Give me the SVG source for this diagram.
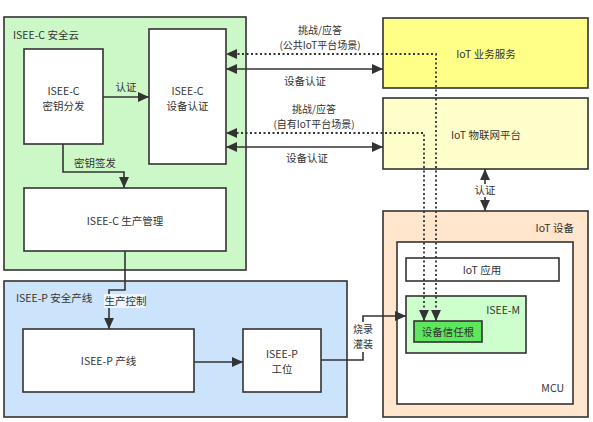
<svg xmlns="http://www.w3.org/2000/svg" width="593" height="422" viewBox="0 0 593 422">
<style>
.b{stroke:#333;stroke-width:1.6}
.t{font-family:"Noto Sans CJK SC","Liberation Sans",sans-serif;font-size:10.5px;fill:#333}
.s{font-size:10px}
.m{text-anchor:middle}
.e{text-anchor:end}
.l{fill:none;stroke:#333;stroke-width:1.6}
.d{fill:none;stroke:#333;stroke-width:1.8;stroke-dasharray:2 2.5}
</style>
<defs>
<marker id="ah" viewBox="0 0 10 10" refX="10" refY="5" markerWidth="11" markerHeight="11" markerUnits="userSpaceOnUse" orient="auto-start-reverse">
<path d="M0,0.5 L10,5 L0,9.5 Z" fill="#333"/>
</marker>
</defs>
<rect width="593" height="422" fill="#fff"/>
<g id="cloud">
<rect class="b" x="4" y="17" width="242" height="253" fill="#ccf7c6"/>
<text class="t" x="13" y="39">ISEE-C 安全云</text>
</g>
<g id="keydist">
<rect class="b" x="24" y="49" width="79" height="95" fill="#fff"/>
<text class="t m" x="63.5" y="95">ISEE-C</text>
<text class="t m" x="63.5" y="110">密钥分发</text>
</g>
<g id="devauth">
<rect class="b" x="149" y="29" width="77" height="135" fill="#fff"/>
<text class="t m" x="187.5" y="95">ISEE-C</text>
<text class="t m" x="187.5" y="110">设备认证</text>
</g>
<g id="prodmgmt">
<rect class="b" x="24" y="188" width="202" height="63" fill="#fff"/>
<text class="t m" x="125" y="225">ISEE-C 生产管理</text>
</g>
<g id="pline">
<rect class="b" x="4" y="281" width="343" height="136" fill="#cce4fb"/>
<text class="t" x="16" y="302">ISEE-P 安全产线</text>
</g>
<g id="pprod">
<rect class="b" x="23" y="329" width="171" height="63" fill="#fff"/>
<text class="t m" x="108.5" y="365">ISEE-P 产线</text>
</g>
<g id="pstation">
<rect class="b" x="243" y="329" width="78" height="63" fill="#fff"/>
<text class="t m" x="282" y="358">ISEE-P</text>
<text class="t m" x="282" y="373">工位</text>
</g>
<g id="iotbiz">
<rect class="b" x="383" y="18" width="205" height="70" fill="#ffff88"/>
<text class="t m" x="486" y="58">IoT 业务服务</text>
</g>
<g id="iotplat">
<rect class="b" x="383" y="98" width="205" height="71" fill="#ffffcc"/>
<text class="t m" x="486" y="139">IoT 物联网平台</text>
</g>
<g id="iotdev">
<rect class="b" x="383" y="211" width="205" height="206" fill="#ffe6cc"/>
<text class="t e" x="574" y="232">IoT 设备</text>
</g>
<g id="mcu">
<rect class="b" x="397" y="242" width="176" height="162" fill="#fff"/>
<text class="t e" x="564" y="392">MCU</text>
</g>
<g id="iotapp">
<rect class="b" x="406" y="258" width="153" height="23" fill="#fff"/>
<text class="t m" x="482" y="274">IoT 应用</text>
</g>
<g id="iseem">
<rect class="b" x="406" y="296" width="120" height="57" fill="#ccffcc"/>
<text class="t e" x="520" y="314">ISEE-M</text>
</g>
<g id="root">
<rect class="b" x="414" y="321" width="68" height="21" fill="#5ee65e"/>
<text class="t m" x="448" y="335.5">设备信任根</text>
</g>
<g id="connectors">
<path class="l" d="M103,97 H149" marker-end="url(#ah)"/>
<text class="t m" x="126" y="91">认证</text>
<path class="l" d="M63,144 V172 H124 V188" marker-end="url(#ah)"/>
<text class="t" x="74" y="167">密钥签发</text>
<path class="l" d="M125,251 V290 H109 V329" marker-end="url(#ah)"/>
<rect x="104" y="294" width="41" height="14" fill="#eef5fc"/>
<text class="t" x="104.5" y="305">生产控制</text>
<path class="l" d="M194,362 H243" marker-end="url(#ah)"/>
<path class="l" d="M321,360 H363 V316 H406" marker-end="url(#ah)"/>
<rect x="352" y="322" width="22" height="30" fill="#fff"/>
<text class="t s m" x="363" y="333">烧录</text>
<text class="t s m" x="363" y="347.5">灌装</text>
<path class="l" d="M226,69 H383" marker-start="url(#ah)" marker-end="url(#ah)"/>
<text class="t m" x="305" y="85">设备认证</text>
<path class="l" d="M226,147 H383" marker-start="url(#ah)" marker-end="url(#ah)"/>
<text class="t m" x="307" y="162">设备认证</text>
<path class="d" d="M436,321 V54 H226" marker-start="url(#ah)" marker-end="url(#ah)"/>
<text class="t s m" x="320" y="34">挑战/应答</text>
<text class="t s m" x="320" y="48.5">(公共IoT平台场景)</text>
<path class="d" d="M424,321 V133 H226" marker-start="url(#ah)" marker-end="url(#ah)"/>
<text class="t s m" x="314" y="113">挑战/应答</text>
<text class="t s m" x="314" y="127.5">(自有IoT平台场景)</text>
<path class="l" d="M485,169 V211" marker-start="url(#ah)" marker-end="url(#ah)"/>
<rect x="473" y="184" width="24" height="13" fill="#fff"/>
<text class="t m" x="485" y="194">认证</text>
</g>
</svg>
